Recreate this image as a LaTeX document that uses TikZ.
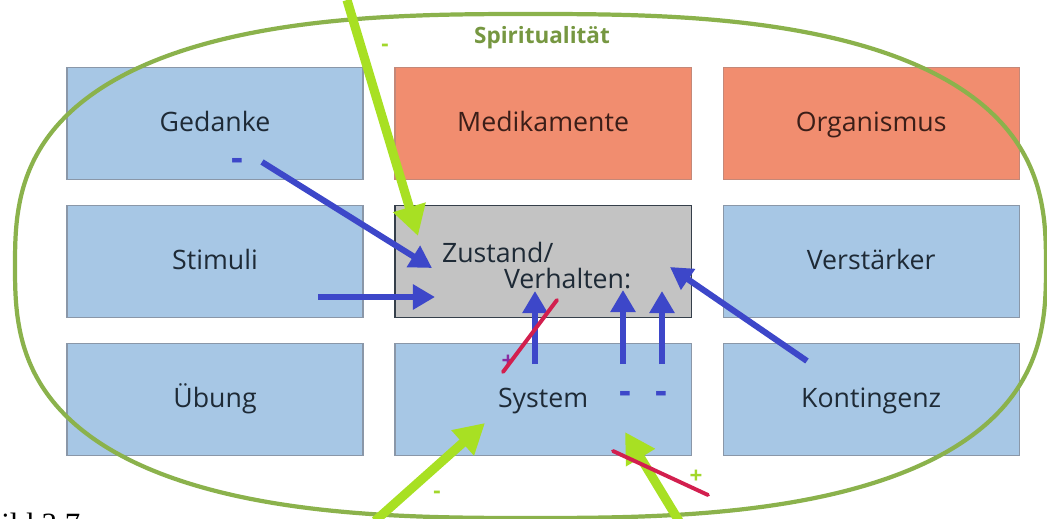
\documentclass[tikz,border=0pt]{standalone}
\usepackage{fontspec}
\setmainfont{Liberation Serif}
\setsansfont{Open Sans}
\usetikzlibrary{arrows.meta,positioning,calc}
\definecolor{Ink}{HTML}{1E2A36}
\definecolor{DrugInk}{HTML}{3B1E18}
\definecolor{CellBlue}{HTML}{A7C7E5}
\definecolor{CellLine}{HTML}{8A97A8}
\definecolor{Salmon}{HTML}{F18D6F}
\definecolor{SalmonLine}{HTML}{C48878}
\definecolor{StateGray}{HTML}{C3C3C3}
\definecolor{Olive}{HTML}{8BB24C}
\definecolor{Lime}{HTML}{A8E023}
\definecolor{ArrowBlue}{HTML}{3D47C9}
\definecolor{Cross}{HTML}{D21F4E}
\definecolor{Plum}{HTML}{8A2BA0}
\tikzset{
  cellbox/.style={draw=CellLine,fill=CellBlue,line width=0.8pt,minimum width=7.4cm,minimum height=2.8cm,outer sep=0pt,text height=1.35em,text depth=0.22em,font=\sffamily\fontsize{19}{22}\selectfont,text=Ink},
  drugbox/.style={cellbox,draw=SalmonLine,fill=Salmon,text=DrugInk},
  statebox/.style={cellbox,draw=Ink!90,fill=StateGray},
  blueline/.style={-{Triangle[length=0.55cm,width=0.6cm]},draw=ArrowBlue,line width=4.3pt},
  limeline/.style={-{Triangle[length=0.75cm,width=0.8cm]},draw=Lime,line width=6.5pt},
  strike/.style={draw=Cross,line width=2.8pt,line cap=round},
  sign/.style={font=\sffamily\bfseries\fontsize{26}{26}\selectfont,inner sep=0pt}
}

\begin{document}
\begin{tikzpicture}[x=0.025cm,y=-0.025cm]
  \useasboundingbox (0,0) rectangle (1047,519);

  % the nine fields
  \node[cellbox] (gedanke) at (215,123.5) {Gedanke};
  \node[drugbox,right=0.8cm of gedanke] (medikamente) {Medikamente};
  \node[drugbox,right=0.8cm of medikamente] (organismus) {Organismus};
  \node[cellbox,below=0.65cm of gedanke] (stimuli) {Stimuli};
  \node[statebox,right=0.8cm of stimuli] (state) {};
  \node[cellbox,right=0.8cm of state] (verstaerker) {Verstärker};
  \node[cellbox,below=0.65cm of stimuli] (uebung) {Übung};
  \node[cellbox,right=0.8cm of uebung] (system) {System};
  \node[cellbox,right=0.8cm of system] (kontingenz) {Kontingenz};
  \node[anchor=west,align=left,font=\sffamily\fontsize{19}{18.5}\selectfont,text=Ink] (statetext)
    at ([xshift=1.05cm,yshift=-0.1cm]state.west) {Zustand/\\\hspace*{1.55cm}Verhalten:};

  % frame
  \draw[Olive,line width=3pt] plot[domain=0:360,samples=181,smooth]
    ({530.5+515.5*cos(\x)*pow(abs(cos(\x))+0.0001,-0.26)},
     {266+252*sin(\x)*pow(abs(sin(\x))+0.0001,-0.26)}) -- cycle;
  \node[font=\sffamily\bfseries\fontsize{16}{18}\selectfont,text=Olive!85!black] (spirit) at (542,38) {Spiritualität};

  % ends of the arrows
  \coordinate (lime-top) at (347,0);
  \coordinate (lime-top-tip) at (418,236);
  \coordinate (lime-left) at (375,521);
  \coordinate (lime-left-tip) at (485,423);
  \coordinate (lime-right) at (679,521);
  \coordinate (lime-right-tip) at (625,432);
  \coordinate (thought) at (262,162);
  \coordinate (thought-tip) at (432,268);
  \coordinate (stim) at (318,297);
  \coordinate (stim-tip) at (435,297);
  \coordinate (kont) at (807,361);
  \coordinate (kont-tip) at (670,267);
  \coordinate (sys-a) at (535,364);
  \coordinate (sys-a-tip) at (535,291);
  \coordinate (sys-b) at (623,364);
  \coordinate (sys-b-tip) at (623,290);
  \coordinate (sys-c) at (662,364);
  \coordinate (sys-c-tip) at (662,291);
  \coordinate (cut-a) at (503,372);
  \coordinate (cut-a-end) at (557,300);
  \coordinate (cut-b) at (613,451);
  \coordinate (cut-b-end) at (708,495);

  \draw[limeline] (lime-top) -- (lime-top-tip);
  \draw[limeline] (lime-left) -- (lime-left-tip);
  \draw[limeline] (lime-right) -- (lime-right-tip);

  \draw[blueline] (thought) -- (thought-tip);
  \draw[blueline] (stim) -- (stim-tip);
  \draw[blueline] (kont) -- (kont-tip);
  \draw[blueline] (sys-a) -- (sys-a-tip);
  \draw[blueline] (sys-b) -- (sys-b-tip);
  \draw[blueline] (sys-c) -- (sys-c-tip);

  % signs
  \node[sign,text=ArrowBlue] (thought-sign) at (237,164) {-};
  \node[sign,text=ArrowBlue] (sys-b-sign) at (625,397) {-};
  \node[sign,text=ArrowBlue] (sys-c-sign) at (661,397) {-};
  \node[sign,text=Plum,font=\sffamily\bfseries\fontsize{16}{16}\selectfont] (sys-a-sign) at (508,362) {+};
  \node[sign,text=Lime!80!Olive,font=\sffamily\bfseries\fontsize{16}{16}\selectfont] (top-sign) at (385,48) {-};
  \node[sign,text=Lime!80!Olive,font=\sffamily\bfseries\fontsize{16}{16}\selectfont] (left-sign) at (437,495) {-};
  \node[sign,text=Lime!80!Olive,font=\sffamily\bfseries\fontsize{16}{16}\selectfont] (right-sign) at (696,477) {+};

  % struck out
  \draw[strike] (cut-a) -- (cut-a-end);
  \draw[strike] (cut-b) -- (cut-b-end);

  \node[anchor=base west,inner sep=0pt,font=\fontsize{22}{24}\selectfont] (caption) at (1,534) {ild 3.7};
\end{tikzpicture}
\end{document}
